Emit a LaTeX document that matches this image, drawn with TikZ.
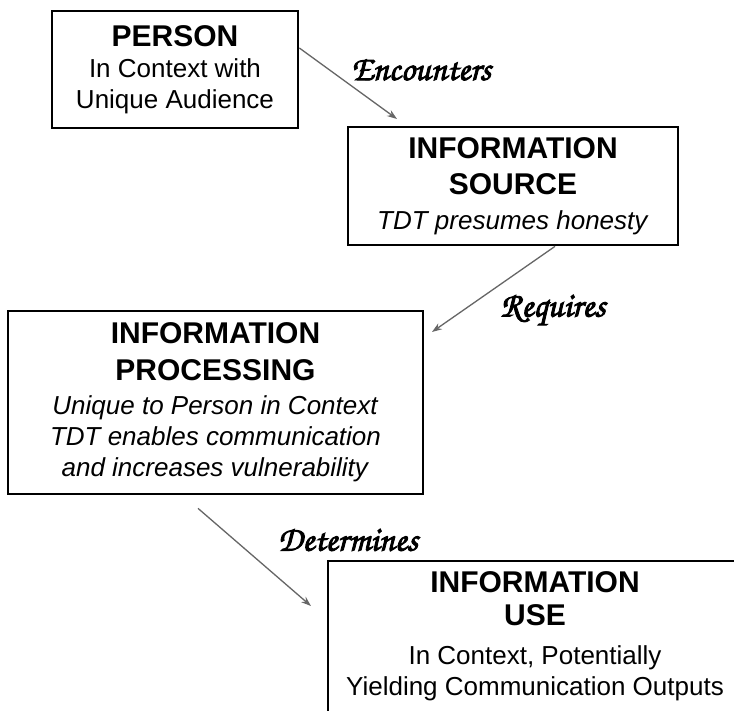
\documentclass[tikz,border=0pt]{standalone}
\usepackage{fontspec}
\setmainfont{Liberation Sans}
\newfontfamily\chorus[FakeBold=2.5]{TeX Gyre Chorus}
\usetikzlibrary{arrows.meta}
\tikzset{
  box/.style={draw=black, line width=2.7pt, align=center, inner sep=0pt,
    font=\fontsize{26}{31}\selectfont},
  conn/.style={draw=black!60, line width=1.3pt, -{Stealth[length=10pt,width=7pt]}},
  lbl/.style={font=\chorus\fontsize{35}{37}\selectfont, inner sep=0pt}
}
\newcommand{\hd}[1]{{\fontsize{30}{31}\selectfont\bfseries #1}}
\begin{document}
\begin{tikzpicture}[x=1pt,y=-1pt]
\useasboundingbox (0,0) rectangle (734,710);
\fill[white] (0,0) rectangle (734,710);
\clip (0,0) rectangle (734,710);
\node[box, minimum width=246pt, minimum height=117pt] (person) at (175,69.5)
  {\hd{PERSON}\\In Context with\\Unique Audience};
\node[box, minimum width=330pt, minimum height=118pt] (source) at (513,186)
  {\hd{INFORMATION}\\[5pt]\hd{SOURCE}\\[4pt]\textit{TDT presumes honesty}};
\node[box, minimum width=415pt, minimum height=183pt] (proc) at (215.5,402.5)
  {\hd{INFORMATION}\\[6pt]\hd{PROCESSING}\\[3pt]\textit{Unique to Person in Context}\\\textit{TDT enables communication}\\\textit{and increases vulnerability}};
\node[box, minimum width=414pt, minimum height=151pt] (use) at (535,636.5)
  {\hd{INFORMATION}\\[2pt]\hd{USE}\\[8pt]In Context, Potentially\\Yielding Communication Outputs};
\coordinate (e1) at (397,119);
\coordinate (e2) at (432,332);
\coordinate (e3) at (311,606);
\draw[conn] ([yshift=21.5pt]person.east) -- (e1);
\draw[conn] ([xshift=42pt]source.south) -- (e2);
\draw[conn] ([xshift=-17.5pt,yshift=-13pt]proc.south) -- (e3);
\node[lbl] (l1) at (421,70) {Encounters};
\node[lbl] (l2) at (553,310) {Requires};
\node[lbl] (l3) at (348,540) {Determines};
\end{tikzpicture}
\end{document}
